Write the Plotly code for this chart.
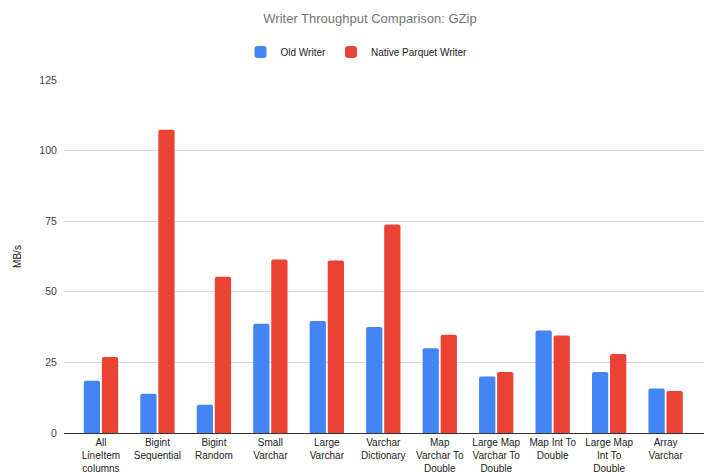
import plotly.graph_objects as go

categories = [
    "All<br>LineItem<br>columns", "Bigint<br>Sequential", "Bigint<br>Random",
    "Small<br>Varchar", "Large<br>Varchar", "Varchar<br>Dictionary",
    "Map<br>Varchar To<br>Double", "Large Map<br>Varchar To<br>Double",
    "Map Int To<br>Double", "Large Map<br>Int To<br>Double", "Array<br>Varchar",
]
old_writer = [18.5, 13.9, 10.0, 38.7, 39.7, 37.5, 30.0, 20.0, 36.3, 21.6, 15.8]
native_parquet_writer = [26.9, 107.4, 55.3, 61.4, 61.1, 73.8, 34.8, 21.6, 34.5, 28.0, 14.9]
y_ticks = [0, 25, 50, 75, 100, 125]

FONT = "Liberation Sans, Arial, sans-serif"
x = list(range(len(categories)))

fig = go.Figure()
fig.add_trace(go.Bar(name="Old Writer", x=x, y=old_writer, marker_color="#4285F4",
                     marker_line_width=0, marker_cornerradius=2))
fig.add_trace(go.Bar(name="Native Parquet Writer", x=x, y=native_parquet_writer,
                     marker_color="#EA4335", marker_line_width=0, marker_cornerradius=2))

fig.update_layout(
    width=712, height=472,
    margin=dict(l=64, r=8, t=80, b=39, autoexpand=False),
    paper_bgcolor="white", plot_bgcolor="white",
    barmode="group", bargap=0.36, bargroupgap=0.1,
    font=dict(family=FONT, size=10, color="#222222"),
    title=dict(text="Writer Throughput Comparison: GZip", x=370/712, xanchor="center",
               y=1 - 18/472, yanchor="middle", xref="container", yref="container",
               font=dict(family=FONT, size=13, color="#757575")),
    legend=dict(orientation="h", x=(356.5 - 64) / 640, xanchor="center", y=1.079, yanchor="middle",
                font=dict(family=FONT, size=10, color="#222222"), itemwidth=30,
                bgcolor="rgba(0,0,0,0)"),
    showlegend=True,
)
fig.update_xaxes(
    tickmode="array", tickvals=x, ticktext=categories, range=[-0.655, 10.68],
    showgrid=False, showline=True, linecolor="#333333", linewidth=1,
    ticks="", automargin=False, tickfont=dict(size=10, color="#222222"),
)
fig.update_yaxes(
    range=[0, 125], tickmode="array", tickvals=y_ticks,
    showgrid=True, gridcolor="#d9d9d9", gridwidth=1,
    zeroline=False, showline=False, ticks="outside", ticklen=4, tickcolor="rgba(0,0,0,0)",
    automargin=False, tickfont=dict(size=10.5, color="#444444"),
    title=dict(text="MB/s", font=dict(size=10, color="#222222"), standoff=15),
)
fig.write_html("out.html")
